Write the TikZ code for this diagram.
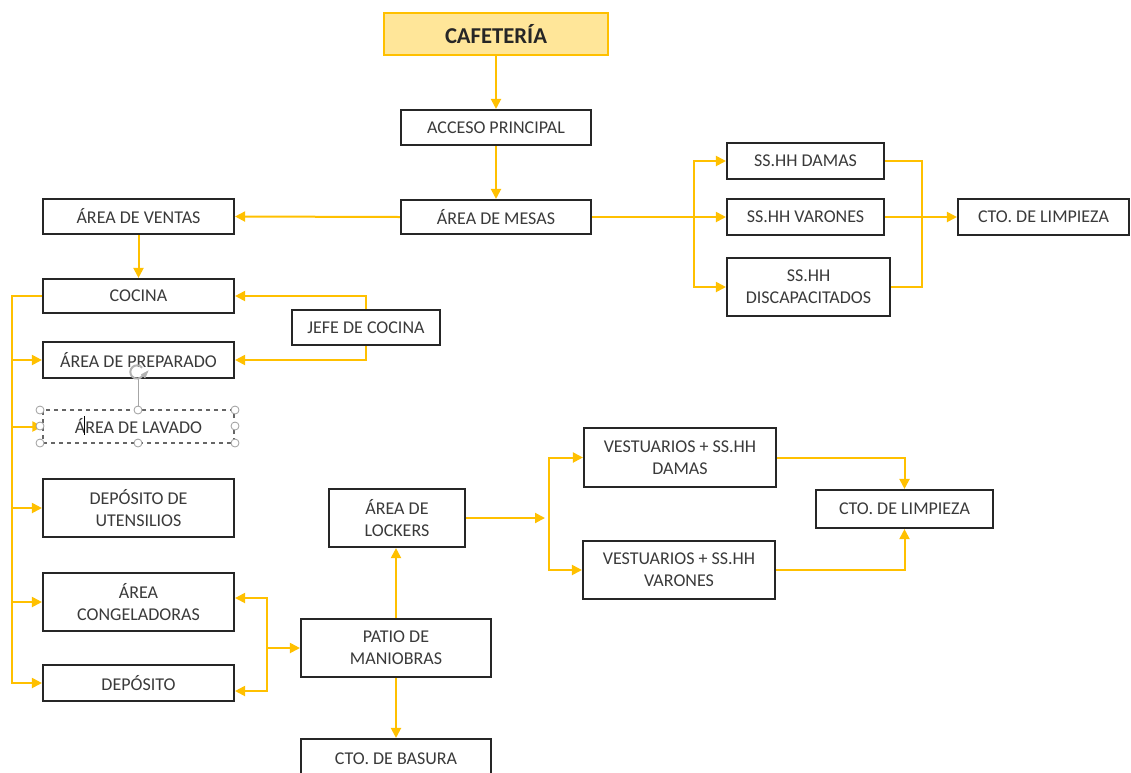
\documentclass[tikz,border=0pt]{standalone}
\usepackage{fontspec}
\setmainfont{Carlito}
\usetikzlibrary{arrows.meta}
\definecolor{ylw}{HTML}{FFC000}
\definecolor{ylwfill}{HTML}{FFE699}
\definecolor{txt}{HTML}{3A3A3A}
\tikzset{
  box/.style={draw=black!85, line width=1.6pt, fill=white, inner sep=0pt, align=center,
    text=txt, font=\fontsize{13.5}{16.5}\selectfont},
  conn/.style={draw=ylw, line width=1.5pt},
  arr/.style={conn, -{Triangle[length=7.5pt,width=7.5pt]}},
  handle/.style={draw=gray!75, fill=white, line width=0.6pt},
}
\newcommand{\bx}[7][]{%
  \pgfmathsetmacro\bcx{(#3+#5)/2}\pgfmathsetmacro\bcy{(#4+#6)/2}%
  \pgfmathsetmacro\bw{(#5-#3)*0.75}\pgfmathsetmacro\bh{(#6-#4)*0.75}%
  \node[box, minimum width=\bw pt, minimum height=\bh pt, #1] (#2) at (\bcx,\bcy) {#7};}
\begin{document}
\begin{tikzpicture}[x=0.75pt,y=-0.75pt]
\useasboundingbox (0,0) rectangle (1131,772);
% boxes
\bx[draw=ylw, fill=ylwfill, text=black!85, font=\fontsize{17}{20}\selectfont\bfseries]{caf}{384}{13}{608}{55}{CAFETERÍA}
\bx{acc}{401}{110}{591}{145}{ACCESO PRINCIPAL}
\bx{mesas}{401}{200}{591}{234}{ÁREA DE MESAS}
\bx{ventas}{43}{199}{234}{234}{ÁREA DE VENTAS}
\bx{cocina}{43}{279}{234}{313}{COCINA}
\bx{jefe}{292}{310}{440}{345}{JEFE DE COCINA}
\bx{prep}{43}{342}{234}{378}{ÁREA DE PREPARADO}
\bx[draw=black!60, dashed, line width=0.9pt]{lav}{43}{410}{234}{443}{ÁREA DE LAVADO}
\bx{uten}{43}{479}{234}{537}{DEPÓSITO DE\\UTENSILIOS}
\bx{cong}{43}{573}{234}{631}{ÁREA\\CONGELADORAS}
\bx{dep}{43}{665}{234}{701}{DEPÓSITO}
\bx{patio}{301}{619}{491}{677}{PATIO DE\\MANIOBRAS}
\bx{basura}{301}{739}{491}{778}{CTO. DE BASURA}
\bx{lockers}{329}{489}{465}{547}{ÁREA DE\\LOCKERS}
\bx{vd}{584}{428}{776}{487}{VESTUARIOS + SS.HH\\DAMAS}
\bx{vv}{583}{541}{775}{599}{VESTUARIOS + SS.HH\\VARONES}
\bx{limp2}{816}{490}{993}{528}{CTO. DE LIMPIEZA}
\bx{damas}{727}{143}{884}{179}{SS.HH DAMAS}
\bx{varones}{727}{199}{884}{235}{SS.HH VARONES}
\bx{disc}{727}{258}{890}{316}{SS.HH\\DISCAPACITADOS}
\bx{limp1}{958}{199}{1129}{235}{CTO. DE LIMPIEZA}
% connectors
\draw[arr] (caf.south) -- (acc.north);
\draw[arr] (acc.south) -- (mesas.north);
\draw[arr] (mesas.west) -- (ventas.east);
\draw[arr] (ventas.south) -- (cocina.north);
\coordinate (tk) at (12,296);
\draw[arr] (cocina.west) -- (tk) |- (dep.west);
\foreach \n in {prep,lav,uten,cong} \draw[arr] (tk |- \n.west) -- (\n.west);
\draw[arr] (jefe.north) |- (cocina.east);
\draw[arr] (jefe.south) |- (prep.east);
\coordinate (sb) at (694,217);
\draw[arr] (mesas.east) -- (varones.west);
\draw[arr] (sb) |- (damas.west);
\draw[arr] (sb) |- (disc.west);
\coordinate (rb) at (922,217);
\draw[conn] (damas.east) -| (rb |- disc.east) -- (disc.east);
\draw[arr] (varones.east) -- (limp1.west);
\coordinate (pb) at (267,648);
\draw[arr] (pb) -- (patio.west);
\draw[arr] (pb) |- ([yshift=3pt]cong.east);
\draw[arr] (pb) |- ([yshift=-6pt]dep.east);
\draw[arr] (patio.north) -- (patio.north |- lockers.south);
\draw[arr] (patio.south) -- (basura.north);
\coordinate (lk) at (545,518);
\coordinate (vb) at (549,518);
\draw[arr] (lockers.east) -- (lk);
\draw[arr] (vb) |- (vd.west);
\draw[arr] (vb) |- (vv.west);
\draw[arr] (vd.east) -| (limp2.north);
\draw[arr] (vv.east) -| (limp2.south);
% selection handles (as in the picture)
\draw[gray!70, line width=0.6pt] (138,379) -- (138,410);
\draw[gray!60, line width=1.5pt] (137,372) ++(40:5pt) arc[start angle=40, end angle=330, radius=5pt];
\draw[gray!60, fill=gray!60] (141.5,374.5) -- (148,371) -- (145,378) -- cycle;
\foreach \p in {(40,410),(138,410),(235,410),(40,426),(235,426),(40,443),(138,443),(235,443)}
  \draw[handle] \p circle (3pt);
\draw[black, line width=0.7pt] (84,416) -- (84,435);
\end{tikzpicture}
\end{document}
